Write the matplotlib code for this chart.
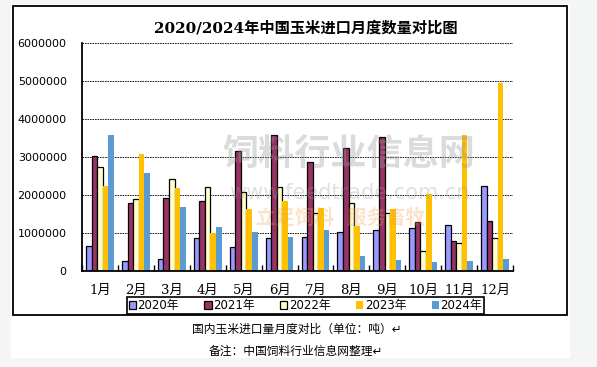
import matplotlib.pyplot as plt
import numpy as np
from matplotlib.patches import Rectangle

plt.rcParams['font.family'] = ['DejaVu Sans', 'Noto Sans CJK SC']

months = ["1月", "2月", "3月", "4月", "5月", "6月", "7月", "8月", "9月", "10月", "11月", "12月"]
years = ["2020年", "2021年", "2022年", "2023年", "2024年"]
y2020 = [660000, 260000, 320000, 870000, 630000, 860000, 890000, 1020000, 1070000, 1120000, 1200000, 2250000]
y2021 = [3030000, 1780000, 1910000, 1840000, 3160000, 3570000, 2860000, 3230000, 3520000, 1280000, 780000, 1310000]
y2022 = [2750000, 1900000, 2410000, 2210000, 2080000, 2210000, 1520000, 1780000, 1520000, 520000, 730000, 860000]
y2023 = [2250000, 3090000, 2180000, 990000, 1630000, 1840000, 1670000, 1180000, 1630000, 2030000, 3580000, 4950000]
y2024 = [3590000, 2590000, 1680000, 1160000, 1030000, 890000, 1080000, 390000, 290000, 240000, 260000, 320000]
series = [y2020, y2021, y2022, y2023, y2024]
colors = ["#9999FF", "#993366", "#FFFFCC", "#FFC000", "#5B9BD5"]
edges = ["black", "black", "black", "none", "none"]

W, H = 597, 367
fig = plt.figure(figsize=(W / 100, H / 100), dpi=100)
fig.patch.set_facecolor("#f3f6f4")

def fx(px): return px / W
def fy(py): return 1 - py / H

# white page and chart frame
fig.patches.append(Rectangle((fx(11), fy(358)), fx(570) - fx(11), fy(4) - fy(358),
                             transform=fig.transFigure, facecolor="white", edgecolor="none", zorder=0))
fig.patches.append(Rectangle((fx(13), fy(315)), fx(567) - fx(13), fy(6) - fy(315),
                             transform=fig.transFigure, facecolor="white", edgecolor="black", lw=1.3, zorder=0.5))

ax = fig.add_axes([fx(82), fy(271), fx(513) - fx(82), fy(43) - fy(271)])
ax.set_facecolor("none")
ax.set_zorder(2)

x = np.arange(len(months))
w = 0.155
for i, (vals, c, e) in enumerate(zip(series, colors, edges)):
    ax.bar(x + (i - 2) * w, vals, w, color=c, edgecolor=e, linewidth=0.9 if e != "none" else 0,
           label=years[i], zorder=3)

ax.set_xlim(-0.5, 11.5)
ax.set_ylim(0, 6000000)
ax.set_yticks(np.arange(0, 6000001, 1000000))
ax.set_yticklabels([str(v) for v in range(0, 6000001, 1000000)], fontsize=8)
ax.tick_params(axis="y", length=0, pad=11)
ax.set_xticks(x)
ax.set_xticklabels(months, fontsize=9.5, family=['DejaVu Serif', 'Noto Sans CJK SC'])
ax.tick_params(axis="x", length=0, pad=9)
ax.set_xticks(np.arange(-0.5, 12, 1), minor=True)
ax.tick_params(axis="x", which="minor", direction="in", length=4, width=1)
ax.grid(axis="y", color="black", linestyle=(0, (2, 1)), linewidth=0.6, zorder=1)
for s in ["top", "right"]:
    ax.spines[s].set_visible(False)
for s in ["left", "bottom"]:
    ax.spines[s].set_linewidth(1.3)
    ax.spines[s].set_zorder(4)

# faint watermark
ax.text(0.62, 0.51, "饲料行业信息网", transform=ax.transAxes, fontsize=26, fontweight="bold",
        color="#9a9a9a", alpha=0.35, ha="center", va="center", zorder=5, family="Noto Sans CJK SC")
ax.text(0.62, 0.34, "www.feedtrade.com.cn", transform=ax.transAxes, fontsize=15,
        color="#9a9a9a", alpha=0.3, ha="center", va="center", zorder=5)
ax.text(0.6, 0.23, "立足饲料   服务畜牧", transform=ax.transAxes, fontsize=14, fontweight="bold",
        color="#f5a050", alpha=0.3, ha="center", va="center", zorder=5, family="Noto Sans CJK SC")

fig.text(fx(306), fy(28), "2020/2024年中国玉米进口月度数量对比图", fontsize=11, fontweight="bold",
         ha="center", va="center", family=['DejaVu Serif', 'Noto Sans CJK SC'])

leg = fig.legend(loc="center", bbox_to_anchor=(fx(127), fy(314), fx(484) - fx(127), fy(297) - fy(314)),
                 mode="expand", ncol=5, fancybox=False, edgecolor="black", framealpha=1,
                 borderaxespad=0, borderpad=0.15, handlelength=0.6, handleheight=0.6,
                 handletextpad=0.15, prop={"family": ['DejaVu Sans', 'Noto Sans CJK SC'], "size": 8.5})
leg.get_frame().set_linewidth(1.2)
leg.set_zorder(5)

fig.text(fx(297), fy(329), "国内玉米进口量月度对比（单位：吨）↵", fontsize=8.5, ha="center", va="center",
         family=['Noto Sans CJK SC', 'DejaVu Sans'])
fig.text(fx(296), fy(351), "备注：中国饲料行业信息网整理↵", fontsize=8.5, ha="center", va="center",
         family=['Noto Sans CJK SC', 'DejaVu Sans'])

fig.savefig("out.png", dpi=100, facecolor=fig.get_facecolor())
